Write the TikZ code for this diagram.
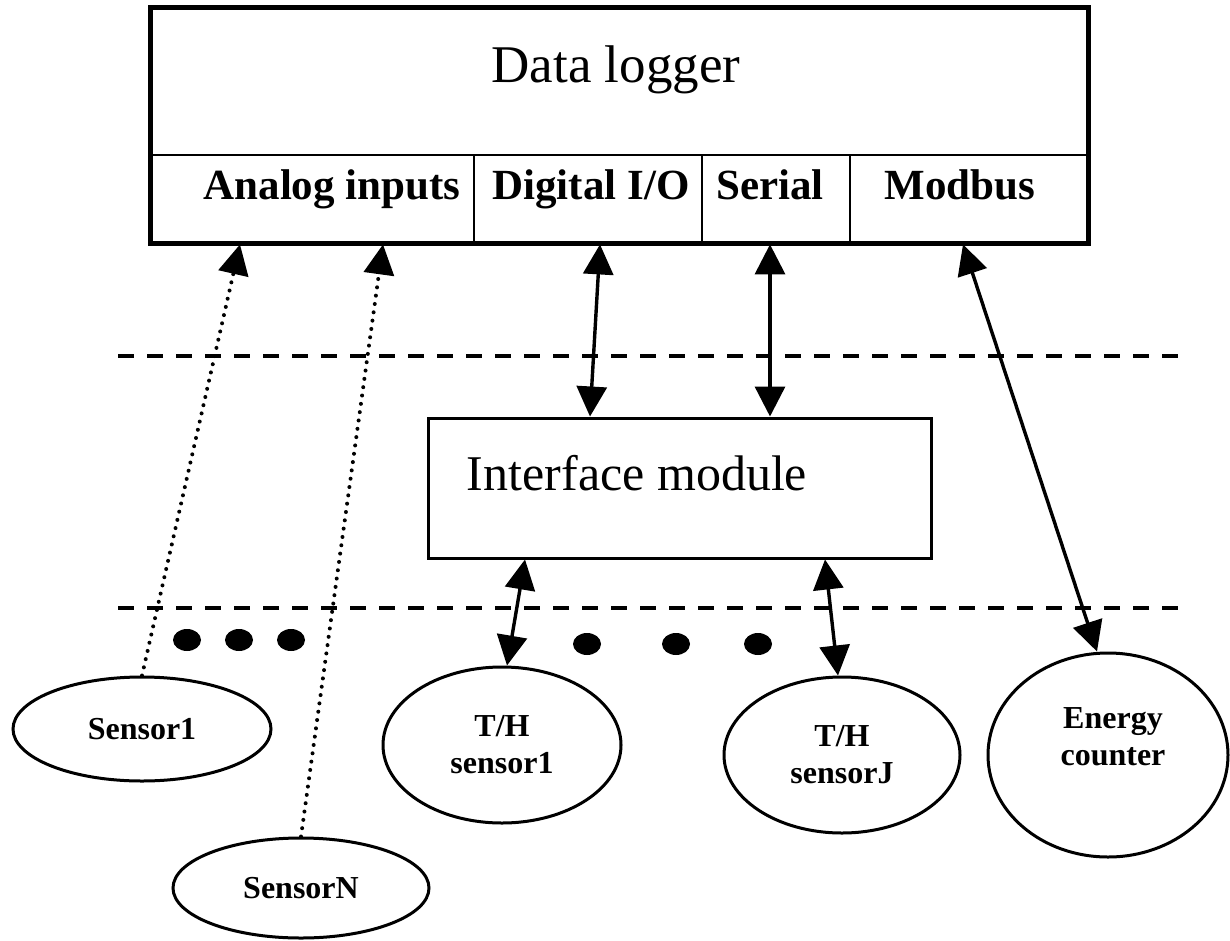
\documentclass[tikz,border=0pt]{standalone}
\usepackage{fontspec}
\setmainfont{Liberation Serif}
\usetikzlibrary{shapes.geometric,arrows.meta,positioning,calc}

\begin{document}
\begin{tikzpicture}[x=0.5pt,y=-0.5pt,
    cell/.style={draw,line width=1.4pt,rectangle,minimum height=44pt,inner sep=0pt},
    portlabel/.style={anchor=base,font=\bfseries\fontsize{21.5}{24}\selectfont},
    sensor/.style={draw,line width=1.5pt,ellipse,inner sep=0pt,align=center,
        font=\bfseries\fontsize{16}{18.5}\selectfont},
    biarrow/.style={line width=1.7pt,{Triangle[length=15pt,width=15pt]}-{Triangle[length=15pt,width=15pt]}},
    dotarrow/.style={line width=2pt,line cap=round,dash pattern=on 0pt off 4.2pt,-{Triangle[length=15pt,width=15pt]}},
    border/.style={line width=2pt,dash pattern=on 8pt off 6.5pt}]
    \fill[white] (0,0) rectangle (1230,941);
    \useasboundingbox (0,0) rectangle (1230,941);

    % data logger and its ports
    \node[cell,minimum width=162pt] (analog) at (312,199) {};
    \node[cell,minimum width=114pt] (digital) at (588,199) {};
    \node[cell,minimum width=74pt] (serial) at (776,199) {};
    \node[cell,minimum width=119pt] (modbus) at (969,199) {};
    \node[draw,line width=2.5pt,rectangle,minimum width=469pt,minimum height=117.5pt,inner sep=0pt] (logger) at (619,125.5) {};
    \node[anchor=base,font=\fontsize{26.5}{30}\selectfont] (loggertext) at (616,83) {Data logger};
    \node[portlabel] (analogtext) at (332,200) {Analog inputs};
    \node[portlabel] (digitaltext) at (591,200) {Digital I/O};
    \node[portlabel] (serialtext) at (770,200) {Serial};
    \node[portlabel] (modbustext) at (960,200) {Modbus};

    % interface module
    \node[draw,line width=1.5pt,rectangle,minimum width=251.5pt,minimum height=70pt,inner sep=0pt] (iface) at (679.5,488) {};
    \node[anchor=base,font=\fontsize{25}{28}\selectfont] (ifacetext) at (637,490) {Interface module};

    % boundaries
    \draw[border] (118,356) -- (1178,356);
    \draw[border] (118,608) -- (1178,608);

    % sensors
    \node[sensor,minimum width=129pt,minimum height=52pt] (sensor1) at (142,729) {Sensor1};
    \node[sensor,minimum width=128pt,minimum height=50pt] (sensorN) at (301,888) {SensorN};
    \node[sensor,minimum width=119pt,minimum height=78pt] (th1) at (502,745) {T/H\\sensor1};
    \node[sensor,minimum width=118pt,minimum height=78pt] (thJ) at (842,755) {T/H\\sensorJ};
    \node[sensor,minimum width=120pt,minimum height=102pt] (energy) at (1108,755) {};
    \node[align=center,font=\bfseries\fontsize{16}{18.5}\selectfont] (energytext) at (1113,737) {Energy\\counter};

    % dots
    \foreach \dx/\dy in {187/640,239/640,291/640,587/644,676/644,758/644}
        \fill (\dx,\dy) ellipse [x radius=7pt,y radius=5.5pt];

    % connections
    \draw[dotarrow] (sensor1.north) -- ([xshift=-36pt]analog.south);
    \draw[dotarrow] (sensorN.north) -- ([xshift=35.5pt]analog.south);
    \draw[biarrow] ([xshift=6pt]digital.south) -- ([xshift=-44.75pt]iface.north);
    \draw[biarrow] ([xshift=-3pt]serial.south) -- ([xshift=45.25pt]iface.north);
    \draw[biarrow] ([xshift=-3pt]modbus.south) -- ([xshift=-5.5pt]energy.north);
    \draw[biarrow] ([xshift=-77.25pt]iface.south) -- ([xshift=2.5pt]th1.north);
    \draw[biarrow] ([xshift=72.75pt]iface.south) -- ([xshift=-2pt]thJ.north);
\end{tikzpicture}
\end{document}
